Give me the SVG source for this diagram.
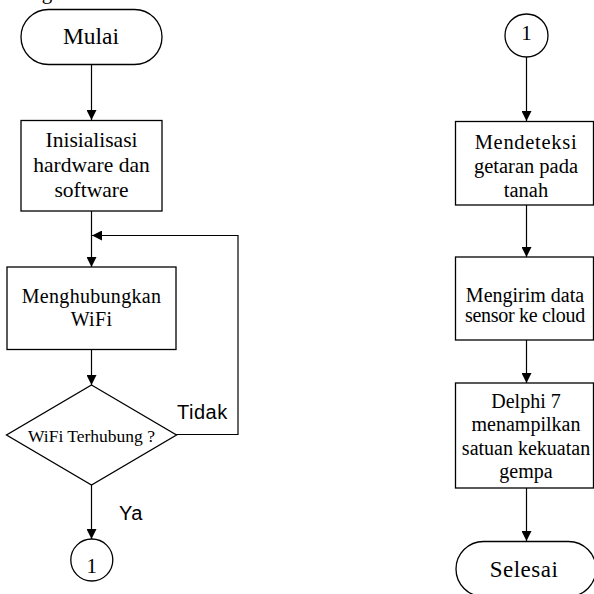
<svg xmlns="http://www.w3.org/2000/svg" width="594" height="594" viewBox="0 0 594 594">
<defs>
<style>
.shape{fill:#fff;stroke:#000;stroke-width:1.3}
.t{font-family:"Liberation Serif","Times New Roman",serif;fill:#000;text-anchor:middle}
.s{font-family:"Liberation Sans",Arial,sans-serif;fill:#000;font-size:20px;letter-spacing:0.5px}
.c{fill:none;stroke:#000;stroke-width:1.2}
</style>
<marker id="ah" markerWidth="10" markerHeight="10" viewBox="0 0 10 10" refX="10" refY="5" orient="auto" markerUnits="userSpaceOnUse">
<path d="M0,0 L10,5 L0,10 Z" fill="#000"/>
</marker>
</defs>
<rect width="594" height="594" fill="#fff"/>
<text class="t" x="47" y="-1" font-size="21">g</text>
<g id="connectors">
<line class="c" x1="91.5" y1="64" x2="91.5" y2="120" marker-end="url(#ah)"/>
<line class="c" x1="91.5" y1="211" x2="91.5" y2="267" marker-end="url(#ah)"/>
<line class="c" x1="91.5" y1="349" x2="91.5" y2="385" marker-end="url(#ah)"/>
<line class="c" x1="91.5" y1="485" x2="91.5" y2="539" marker-end="url(#ah)"/>
<polyline class="c" points="176,434.5 238,434.5 238,235.5 92,235.5" marker-end="url(#ah)"/>
<line class="c" x1="526.5" y1="57" x2="526.5" y2="121" marker-end="url(#ah)"/>
<line class="c" x1="526.5" y1="205" x2="526.5" y2="257" marker-end="url(#ah)"/>
<line class="c" x1="526.5" y1="340" x2="526.5" y2="383" marker-end="url(#ah)"/>
<line class="c" x1="526.5" y1="488" x2="526.5" y2="541" marker-end="url(#ah)"/>
<text class="s" x="177" y="419">Tidak</text>
<text class="s" x="119" y="520">Ya</text>
</g>
<g id="mulai">
<rect class="shape" x="21" y="9.5" width="141" height="55" rx="27.5"/>
<text class="t" x="91" y="44" font-size="23.5">Mulai</text>
</g>
<g id="init">
<rect class="shape" x="21" y="120.5" width="141" height="90.5"/>
<text class="t" x="91.5" y="147" font-size="21.5">Inisialisasi</text>
<text class="t" x="91.5" y="172" font-size="21.5">hardware dan</text>
<text class="t" x="91.5" y="197" font-size="21.5">software</text>
</g>
<g id="wifi">
<rect class="shape" x="7" y="267" width="169" height="82.5"/>
<text class="t" x="91.5" y="303" font-size="20" letter-spacing="0.3">Menghubungkan</text>
<text class="t" x="91.5" y="326" font-size="20" letter-spacing="0.3">WiFi</text>
</g>
<g id="decision">
<polygon class="shape" points="91.5,385 176.5,435 91.5,485 6.5,435"/>
<text class="t" x="91.5" y="441.5" font-size="17.5">WiFi Terhubung ?</text>
</g>
<g id="conn1a">
<circle class="shape" cx="91.8" cy="560" r="21"/>
<text class="t" x="91.8" y="572.5" font-size="21">1</text>
</g>
<g id="conn1b">
<circle class="shape" cx="526.5" cy="35.5" r="21.5"/>
<text class="t" x="526.5" y="39.5" font-size="21">1</text>
</g>
<g id="deteksi">
<rect class="shape" x="455.5" y="121.5" width="138" height="83.5"/>
<text class="t" x="526" y="149" font-size="20.5" letter-spacing="0.7">Mendeteksi</text>
<text class="t" x="526" y="173" font-size="20.5">getaran pada</text>
<text class="t" x="526" y="197" font-size="20.5">tanah</text>
</g>
<g id="kirim">
<rect class="shape" x="455.5" y="257" width="138" height="83"/>
<text class="t" x="525" y="302" font-size="20">Mengirim data</text>
<text class="t" x="525" y="322" font-size="20" letter-spacing="-0.3">sensor ke cloud</text>
</g>
<g id="delphi">
<rect class="shape" x="455.5" y="383" width="138" height="105"/>
<text class="t" x="526" y="408" font-size="20">Delphi 7</text>
<text class="t" x="526" y="431" font-size="20">menampilkan</text>
<text class="t" x="526" y="455" font-size="20">satuan kekuatan</text>
<text class="t" x="526" y="478" font-size="20">gempa</text>
</g>
<g id="selesai">
<rect class="shape" x="456" y="541.5" width="140" height="55" rx="27.5"/>
<text class="t" x="524" y="577" font-size="23" letter-spacing="0.5">Selesai</text>
</g>
</svg>
